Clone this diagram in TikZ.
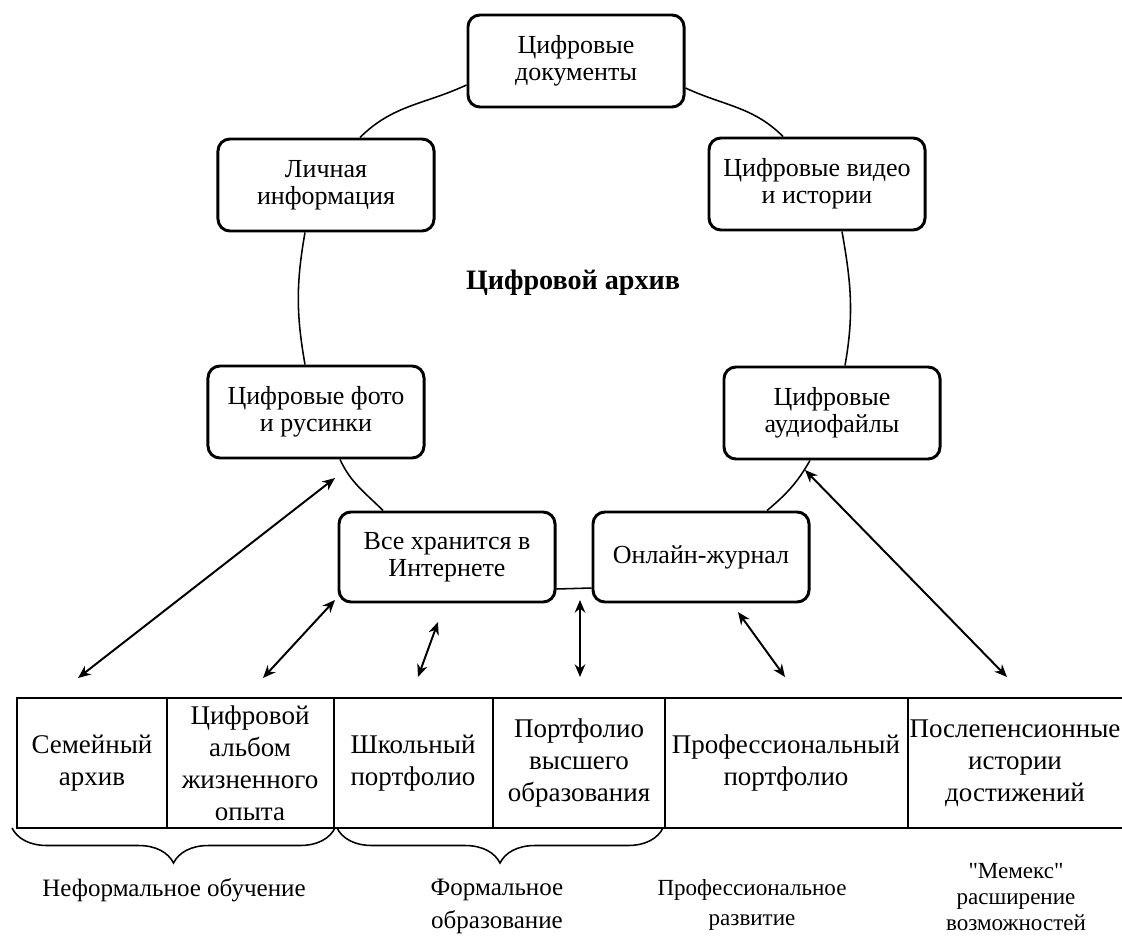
\documentclass[tikz,border=0pt]{standalone}
\usepackage{fontspec}
\setmainfont{Liberation Serif}[Ligatures=TeXOff]
\usetikzlibrary{arrows.meta}
\usetikzlibrary{calc}
\usetikzlibrary{decorations.pathreplacing}

\begin{document}
\begin{tikzpicture}[x=0.025cm, y=0.025cm,
  box/.style={draw, line width=2.1pt, rounded corners=8.5pt, fill=white, align=center,
    minimum width=5.4cm, minimum height=2.3cm, inner sep=2pt,
    font=\fontsize{18.5}{19.5}\selectfont},
  ring/.style={line width=1.1pt},
  link/.style={<->, line width=1.4pt},
  cell/.style={align=center, font=\fontsize{19.2}{22.8}\selectfont},
  tbl/.style={line width=1.2pt},
  brace/.style={decorate, decoration={brace, mirror, amplitude=0.875cm}, line width=1.1pt},
  >={Stealth[length=9pt, width=7.5pt]}]
\useasboundingbox (0,0) rectangle (1122,-937);

% ring of boxes
\node (docs) at (576,-61) [box] {Цифровые\\документы};
\node (personal) at (326,-185) [box] {Личная\\информация};
\node (video) at (817,-184) [box] {Цифровые видео\\и истории};
\node (photo) at (316,-412) [box] {Цифровые фото\\и русинки};
\node (audio) at (832,-413) [box] {Цифровые\\аудиофайлы};
\node (web) at (447,-557) [box, minimum height=2.25cm] {Все хранится в\\Интернете};
\node (journal) at (701,-557) [box, minimum height=2.25cm] {Онлайн-журнал};

\node (title) at (573,-283) {\fontsize{20}{24}\selectfont\bfseries Цифровой архив};

\draw [ring] ($(docs.west)+(0,-24)$) to[out=205, in=45] ($(personal.north)+(34,0)$);
\draw [ring] ($(personal.south)+(-21,0)$) to[out=260, in=100] ($(photo.north)+(-11,0)$);
\draw [ring] ($(photo.south)+(24,0)$) to[out=295, in=135] ($(web.north)+(-64,0)$);
\draw [ring] ($(web.east)+(0,-32)$) -- ($(journal.west)+(0,-31)$);
\draw [ring] ($(journal.north)+(66,0)$) to[out=40, in=240] ($(audio.south)+(-22,0)$);
\draw [ring] ($(audio.north)+(13,0)$) to[out=80, in=280] ($(video.south)+(25,0)$);
\draw [ring] ($(video.north)+(-34,0)$) to[out=135, in=335] ($(docs.east)+(0,-27)$);

% table
\draw [tbl] (1122,-698) -- (17,-698) -- (17,-828) -- (1122,-828);
\foreach \x in {167,334,493,665,908}
  \draw [tbl] (\x,-698) -- (\x,-828);

\node (family) at (92,-763) [cell] {Семейный\\архив};
\node (album) at (250,-763) [cell] {Цифровой\\альбом\\жизненного\\опыта};
\node (school) at (413,-763) [cell] {Школьный\\портфолио};
\node (higher) at (579,-763) [cell] {Портфолио\\высшего\\образования};
\node (prof) at (786,-763) [cell] {Профессиональный\\портфолио};
\node (post) at (1015,-763) [cell] {Послепенсионные\\истории\\достижений};

\draw [brace] (12,-828) -- (335,-828);
\draw [brace] (337,-828) -- (663,-828);

\node (informal) at (174,-890) [align=center, font=\fontsize{17.8}{23.5}\selectfont] {Неформальное обучение};
\node (formal) at (497,-906) [align=center, font=\fontsize{17.8}{23.5}\selectfont] {Формальное\\образование};
\node (profdev) at (752,-905) [align=center, font=\fontsize{16.4}{21.3}\selectfont] {Профессиональное\\развитие};
\node (memex) at (1016,-897) [align=center, font=\fontsize{16.4}{18.8}\selectfont] {"Мемекс"\\расширение\\возможностей};

% arrows
\coordinate (a-family) at (78,-678);
\coordinate (a-photo) at (335,-478);
\coordinate (a-album) at (263,-678);
\coordinate (a-web) at (335,-600);
\coordinate (a-school) at (418,-677);
\coordinate (a-webb) at (438,-622);
\coordinate (a-higher) at (580,-677);
\coordinate (a-gap) at (580,-600);
\coordinate (a-prof) at (785,-677);
\coordinate (a-journal) at (738,-612);
\coordinate (a-post) at (1007,-677);
\coordinate (a-audio) at (805,-470);

\draw [link] (a-family) -- (a-photo);
\draw [link] (a-album) -- (a-web);
\draw [link] (a-school) -- (a-webb);
\draw [link] (a-higher) -- (a-gap);
\draw [link] (a-prof) -- (a-journal);
\draw [link] (a-post) -- (a-audio);

\end{tikzpicture}
\end{document}
